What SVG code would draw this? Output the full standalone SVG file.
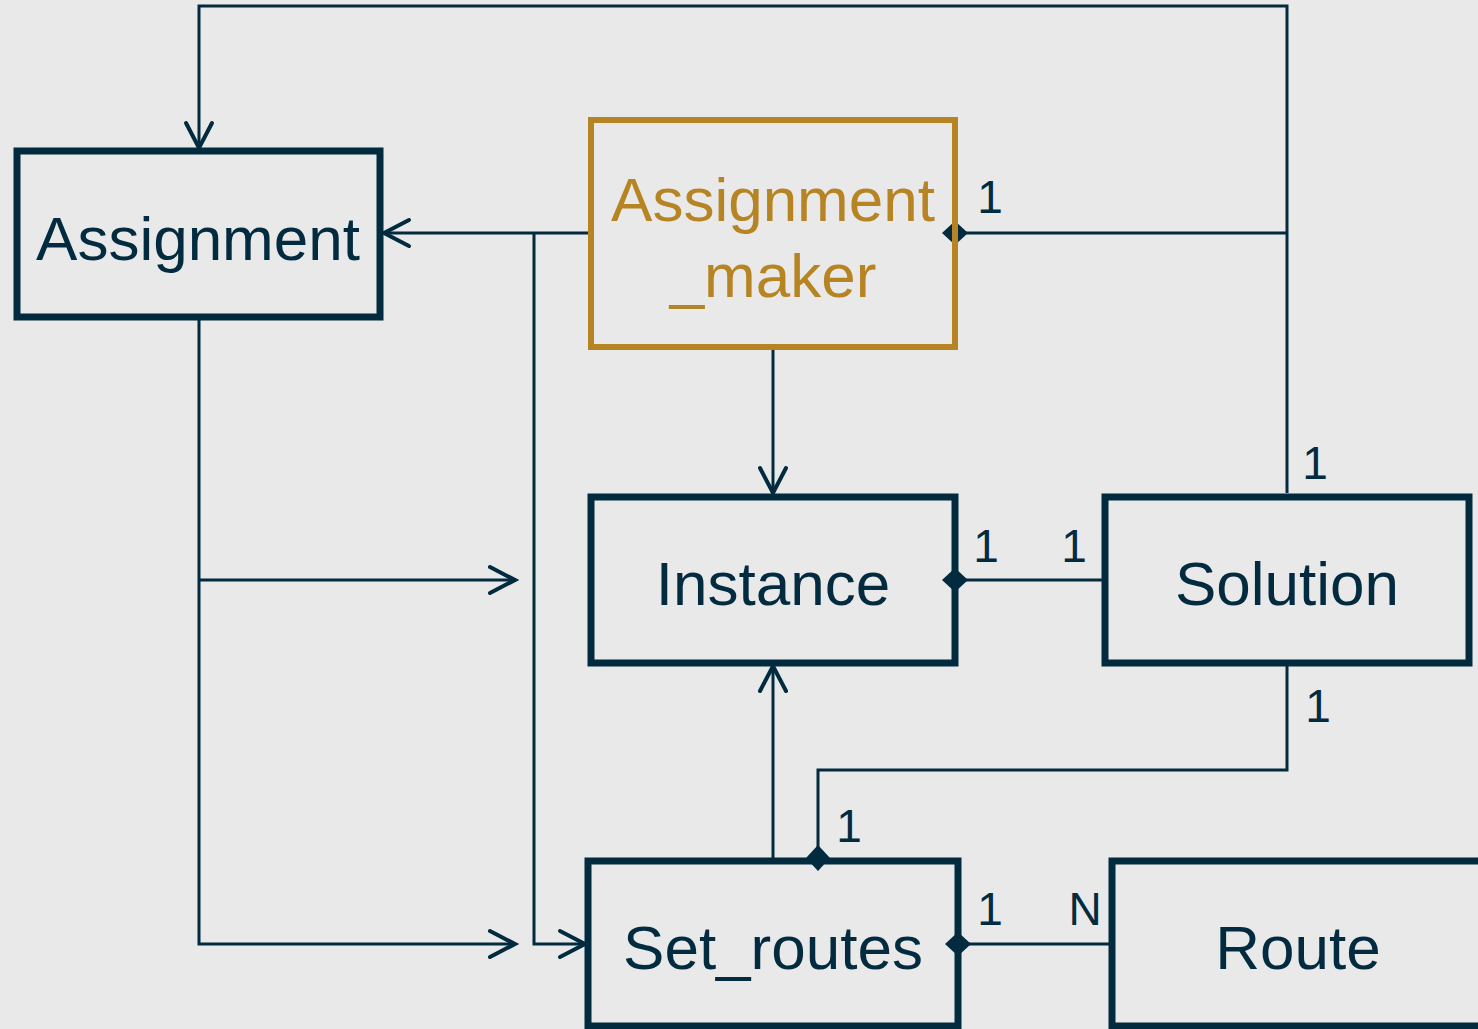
<svg xmlns="http://www.w3.org/2000/svg" width="1478" height="1029" viewBox="0 0 1478 1029">
<style>
.box{fill:none;stroke:#022b3f;stroke-width:7}
.gold{fill:none;stroke:#b78424;stroke-width:6}
.lbl{font-family:"Liberation Sans",Arial,sans-serif;font-size:62px;fill:#022b3f;text-anchor:middle}
.glbl{font-family:"Liberation Sans",Arial,sans-serif;font-size:62px;fill:#b78424;text-anchor:middle}
.num{font-family:"Liberation Sans",Arial,sans-serif;font-size:46px;fill:#022b3f;text-anchor:middle}
.c{fill:none;stroke:#022b3f;stroke-width:3}
.arr{marker-end:url(#arrow)}
.dia{marker-start:url(#diamond)}
</style>
<defs>
<marker id="arrow" markerUnits="userSpaceOnUse" markerWidth="40" markerHeight="40" viewBox="-30 -20 40 40" refX="0" refY="0" orient="auto" overflow="visible">
<path d="M-25,-13 L0,0 L-25,13" fill="none" stroke="#022b3f" stroke-width="4" stroke-linecap="round" stroke-linejoin="miter"/>
</marker>
<marker id="diamond" markerUnits="userSpaceOnUse" markerWidth="40" markerHeight="40" viewBox="-20 -20 40 40" refX="0" refY="0" orient="auto" overflow="visible">
<polygon points="-13,0 0,-12 13,0 0,12" fill="#022b3f"/>
</marker>
</defs>
<rect width="1478" height="1029" fill="#e9e9e9"/>
<g id="connectors">
<path class="c arr" d="M1287,493 V6 H199 V148"/>
<path class="c arr" d="M591,233 H384"/>
<path class="c arr" d="M534,233 V944 H585"/>
<path class="c arr" d="M773,347 V493"/>
<path class="c arr" d="M199,318 V944 H515"/>
<path class="c arr" d="M199,580 H515"/>
<path class="c dia" d="M955,233 H1287"/>
<path class="c dia" d="M955,580 H1105"/>
<path class="c dia" d="M818,858 V770 H1287 V664"/>
<path class="c arr" d="M773,858 V666"/>
<path class="c dia" d="M958,944 H1112"/>
<text class="num" x="990" y="213">1</text>
<text class="num" x="986" y="562">1</text>
<text class="num" x="1074" y="562">1</text>
<text class="num" x="1315" y="479">1</text>
<text class="num" x="1318" y="722">1</text>
<text class="num" x="849" y="842">1</text>
<text class="num" x="990" y="925">1</text>
<text class="num" x="1085" y="925">N</text>
</g>
<g id="assignment">
<rect class="box" x="17" y="151" width="363" height="166"/>
<text class="lbl" x="198" y="260">Assignment</text>
</g>
<g id="assignment_maker">
<rect class="gold" x="591" y="120" width="364" height="227"/>
<text class="glbl" x="773" y="221">Assignment</text>
<text class="glbl" x="773" y="297">_maker</text>
</g>
<g id="instance">
<rect class="box" x="591" y="497" width="364" height="166"/>
<text class="lbl" x="773" y="605">Instance</text>
</g>
<g id="solution">
<rect class="box" x="1105" y="497" width="364" height="166"/>
<text class="lbl" x="1287" y="605">Solution</text>
</g>
<g id="set_routes">
<rect class="box" x="588" y="861" width="370" height="165"/>
<text class="lbl" x="773" y="969">Set_routes</text>
</g>
<g id="route">
<rect class="box" x="1112" y="861" width="400" height="165"/>
<text class="lbl" x="1298" y="969">Route</text>
</g>
</svg>
